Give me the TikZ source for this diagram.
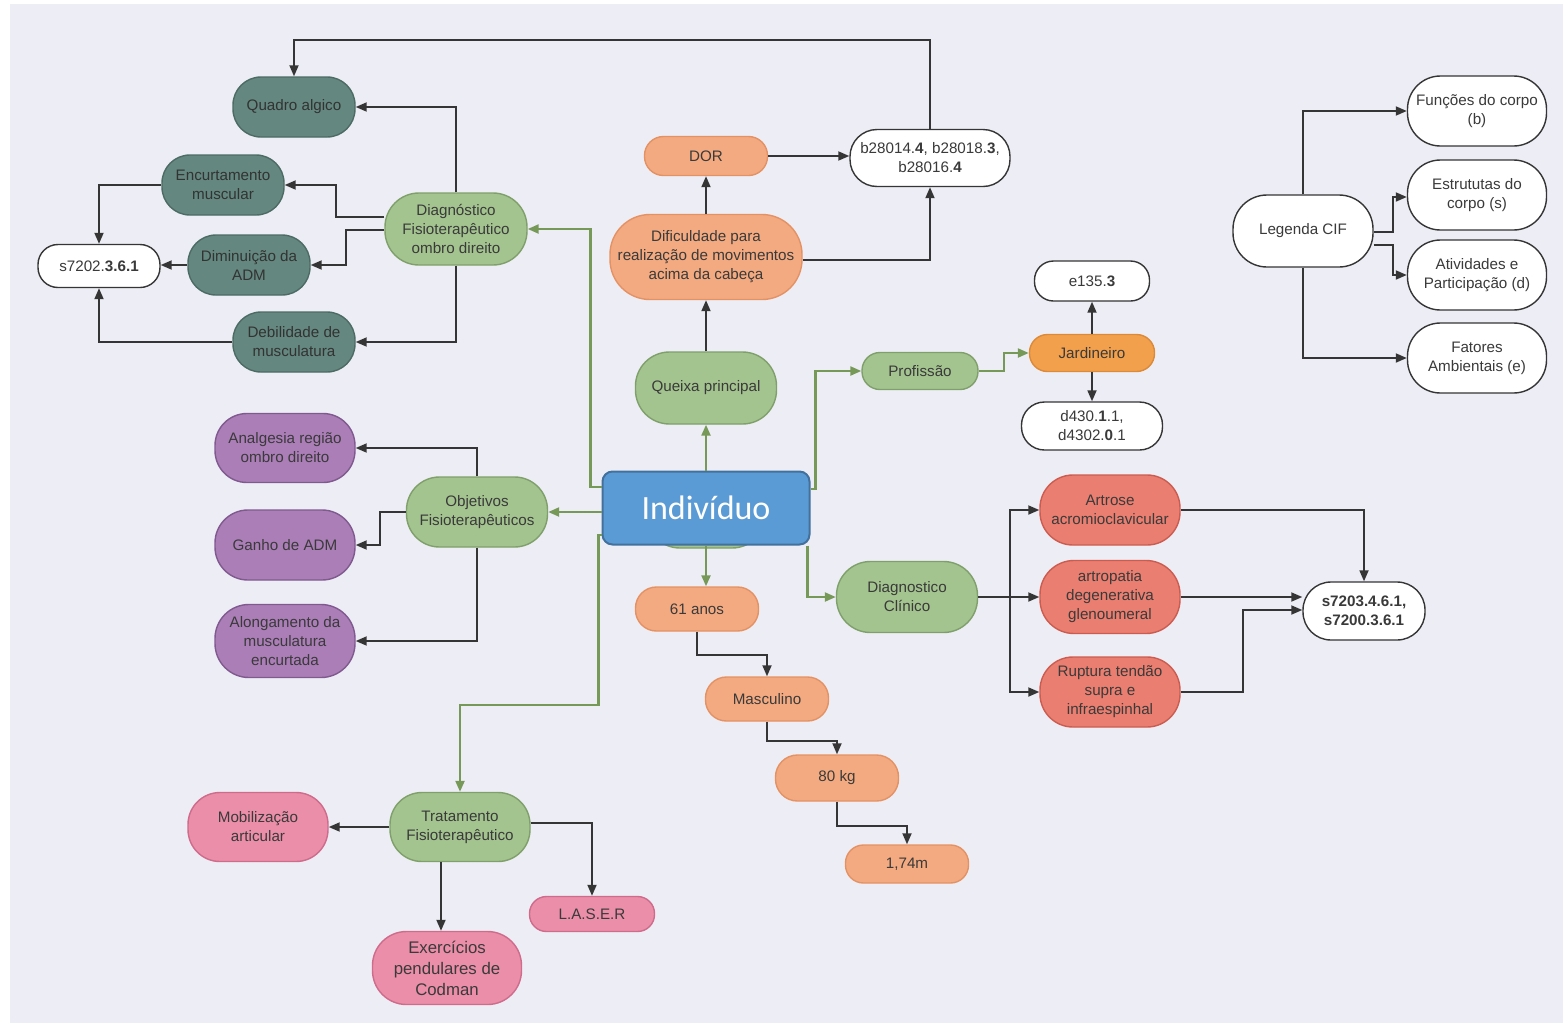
\documentclass[tikz,border=0pt]{standalone}
\usepackage{fontspec}
\setmainfont{Liberation Sans}
\newfontfamily\calfont{Carlito}
\usetikzlibrary{arrows.meta,calc}

\definecolor{paper}{HTML}{EDEDF5}
\definecolor{ink}{HTML}{3A3A3A}
\definecolor{line}{HTML}{353535}
\definecolor{leaf}{HTML}{779958}
\definecolor{tealF}{HTML}{64877F}
\definecolor{tealD}{HTML}{4C6B64}
\definecolor{greenF}{HTML}{A4C48F}
\definecolor{greenD}{HTML}{7FA06A}
\definecolor{orangeF}{HTML}{F3AA80}
\definecolor{orangeD}{HTML}{E49264}
\definecolor{jardF}{HTML}{F2A04C}
\definecolor{jardD}{HTML}{DC8A38}
\definecolor{salmonF}{HTML}{EA7E70}
\definecolor{salmonD}{HTML}{CC5C50}
\definecolor{purpleF}{HTML}{AB7EB8}
\definecolor{purpleD}{HTML}{80598F}
\definecolor{pinkF}{HTML}{EB8EA9}
\definecolor{pinkD}{HTML}{CF6B8B}
\definecolor{blueF}{HTML}{5B9BD5}
\definecolor{blueD}{HTML}{41719C}

\tikzset{
  box/.style={rectangle, draw, line width=0.7pt, align=center, text=ink,
    inner xsep=0.5pt, inner ysep=1pt, font=\fontsize{7.6}{9.5}\selectfont},
  tealbox/.style={box, fill=tealF, draw=tealD, text=black!80},
  greenbox/.style={box, fill=greenF, draw=greenD},
  orangebox/.style={box, fill=orangeF, draw=orangeD},
  jardbox/.style={box, fill=jardF, draw=jardD},
  salmonbox/.style={box, fill=salmonF, draw=salmonD},
  purplebox/.style={box, fill=purpleF, draw=purpleD},
  pinkbox/.style={box, fill=pinkF, draw=pinkD},
  whitebox/.style={box, fill=white, draw=line},
  arr/.style={draw=line, line width=0.9pt, -{Triangle[length=5.5pt,width=4.5pt]}},
  garr/.style={draw=leaf, line width=1.1pt, -{Triangle[length=5.5pt,width=4.5pt]}},
}

\begin{document}
\begin{tikzpicture}[x=0.5pt,y=-0.5pt]
% page and paper
\fill[white] (0,0) rectangle (1563,1023);
\fill[paper] (10,4) rectangle (1563,1023);
\useasboundingbox (0,0) rectangle (1563,1023);

% ---- physiotherapeutic diagnosis (top left)
\node[tealbox, minimum width=61pt, minimum height=30pt, rounded corners=14pt] (quadro) at (294,107) {Quadro algico};
\node[tealbox, minimum width=61pt, minimum height=30pt, rounded corners=14pt] (enc) at (223,185) {Encurtamento\\muscular};
\node[tealbox, minimum width=61pt, minimum height=30pt, rounded corners=14pt] (dim) at (249,265) {Diminuição da\\ADM};
\node[tealbox, minimum width=61pt, minimum height=30pt, rounded corners=14pt] (deb) at (294,342) {Debilidade de\\musculatura};
\node[whitebox, minimum width=61pt, minimum height=21.5pt, rounded corners=10pt] (s72) at (99,266) {s7202.\textbf{3.6.1}};
\node[greenbox, minimum width=71pt, minimum height=36pt, rounded corners=17pt] (diag) at (456,229) {Diagnóstico\\Fisioterapêutico\\ombro direito};

% ---- main complaint (top centre)
\node[orangebox, minimum width=61.5pt, minimum height=19.5pt, rounded corners=9.5pt] (dor) at (706,156) {DOR};
\node[whitebox, minimum width=80pt, minimum height=28.5pt, rounded corners=13.5pt] (b28) at (930,158) {b28014.\textbf{4}, b28018.\textbf{3},\\b28016.\textbf{4}};
\node[orangebox, minimum width=96pt, minimum height=42.5pt, rounded corners=20pt] (dif) at (706,257) {Dificuldade para\\realização de movimentos\\acima da cabeça};
\node[greenbox, minimum width=70.5pt, minimum height=36pt, rounded corners=17pt] (queixa) at (706,388) {Queixa principal};

% ---- individual (centre)
\node[greenbox, minimum width=60pt, minimum height=38pt, rounded corners=17pt] (pac) at (706,510) {};
\node[rectangle, draw=blueD, fill=blueF, line width=1pt, rounded corners=5pt,
      minimum width=103.5pt, minimum height=36.5pt, text=white,
      font=\calfont\fontsize{17}{20}\selectfont] (ind) at (706,508) {Indivíduo};

% ---- profession
\node[greenbox, minimum width=58pt, minimum height=18.5pt, rounded corners=9pt] (prof) at (920,371) {Profissão};
\node[jardbox, minimum width=62.5pt, minimum height=18.5pt, rounded corners=9pt] (jard) at (1092,353) {Jardineiro};
\node[whitebox, minimum width=57.5pt, minimum height=20pt, rounded corners=9.5pt] (e135) at (1092,281) {e135.\textbf{3}};
\node[whitebox, minimum width=70.5pt, minimum height=24pt, rounded corners=11.5pt] (d430) at (1092,426) {d430.\textbf{1}.1,\\d4302.\textbf{0}.1};

% ---- clinical diagnosis
\node[greenbox, minimum width=70.5pt, minimum height=35.5pt, rounded corners=17pt] (dclin) at (907,597) {Diagnostico\\Clínico};
\node[salmonbox, minimum width=70pt, minimum height=35pt, rounded corners=16.5pt] (art) at (1110,510) {Artrose\\acromioclavicular};
\node[salmonbox, minimum width=70pt, minimum height=36.5pt, rounded corners=17pt] (artp) at (1110,597) {artropatia\\degenerativa\\glenoumeral};
\node[salmonbox, minimum width=70pt, minimum height=35pt, rounded corners=16.5pt] (rup) at (1110,692) {Ruptura tendão\\supra e\\infraespinhal};
\node[whitebox, minimum width=61pt, minimum height=29pt, rounded corners=14pt] (s7203) at (1364,611) {\textbf{s7203.4.6.1,}\\\textbf{s7200.3.6.1}};

% ---- personal data
\node[orangebox, minimum width=61.5pt, minimum height=22pt, rounded corners=10.5pt] (anos) at (697,609) {61 anos};
\node[orangebox, minimum width=61.5pt, minimum height=22pt, rounded corners=10.5pt] (masc) at (767,699) {Masculino};
\node[orangebox, minimum width=61.5pt, minimum height=23pt, rounded corners=11pt] (kg) at (837,778) {80 kg};
\node[orangebox, minimum width=61.5pt, minimum height=19pt, rounded corners=9pt] (alt) at (907,864) {1,74m};

% ---- goals
\node[purplebox, minimum width=70pt, minimum height=34.5pt, rounded corners=16pt] (anal) at (285,448) {Analgesia região\\ombro direito};
\node[purplebox, minimum width=70pt, minimum height=35pt, rounded corners=16.5pt] (ganho) at (285,545) {Ganho de ADM};
\node[purplebox, minimum width=70pt, minimum height=36.5pt, rounded corners=17pt] (along) at (285,641) {Alongamento da\\musculatura\\encurtada};
\node[greenbox, minimum width=70.5pt, minimum height=35pt, rounded corners=16.5pt] (obj) at (477,512) {Objetivos\\Fisioterapêuticos};

% ---- treatment
\node[pinkbox, minimum width=70pt, minimum height=34.5pt, rounded corners=16pt] (mob) at (258,827) {Mobilização\\articular};
\node[greenbox, minimum width=70pt, minimum height=34.5pt, rounded corners=16pt] (trat) at (460,827) {Tratamento\\Fisioterapêutico};
\node[pinkbox, minimum width=62.5pt, minimum height=17.5pt, rounded corners=8.5pt] (laser) at (592,914) {L.A.S.E.R};
\node[pinkbox, minimum width=74.5pt, minimum height=36.5pt, rounded corners=17pt,
      font=\fontsize{8.4}{10.5}\selectfont] (exerc) at (447,968) {Exercícios\\pendulares de\\Codman};

% ---- ICF legend
\node[whitebox, minimum width=70pt, minimum height=36pt, rounded corners=17pt] (leg) at (1303,231) {Legenda CIF};
\node[whitebox, minimum width=69.5pt, minimum height=35pt, rounded corners=16.5pt] (fun) at (1477,111) {Funções do corpo\\(b)};
\node[whitebox, minimum width=69.5pt, minimum height=35pt, rounded corners=16.5pt] (est) at (1477,195) {Estrututas do\\corpo (s)};
\node[whitebox, minimum width=69.5pt, minimum height=35pt, rounded corners=16.5pt] (ati) at (1477,275) {Atividades e\\Participação (d)};
\node[whitebox, minimum width=69.5pt, minimum height=35pt, rounded corners=16.5pt] (fat) at (1477,358) {Fatores\\Ambientais (e)};

% ================= connectors
% physiotherapeutic diagnosis
\draw[arr] (diag.north) |- (quadro.east);
\draw[arr] ($(diag.west)+(0,-12)$) -- ++(-48,0) |- (enc.east);
\draw[arr] ($(diag.west)+(0,1)$) -- ++(-38,0) |- (dim.east);
\draw[arr] (diag.south) |- (deb.east);
\draw[arr] (enc.west) -| (s72.north);
\draw[arr] (dim.west) -- (dim.west -| s72.east);
\draw[arr] (deb.west) -| (s72.south);
\draw[arr] (b28.north) -- ++(0,-89) -| (quadro.north);

% main complaint
\draw[garr] (ind.north) -- (queixa.south);
\draw[arr] (queixa.north) -- (dif.south);
\draw[arr] (dif.north) -- (dor.south);
\draw[arr] (dor.east) -- (dor.east -| b28.west);
\draw[arr] ($(dif.east)+(0,3)$) -| (b28.south);

% branches of the individual
\draw[garr] ($(ind.west)+(0,-21)$) -- ++(-11,0) |- (diag.east);
\draw[garr] (ind.west |- obj.east) -- (obj.east);
\draw[garr] ($(ind.west)+(0,27)$) -- ++(-3,0) -- ++(0,170) -| (trat.north);
\draw[garr] ($(ind.east)+(0,-19)$) -- ++(5,0) |- (prof.west);
\draw[garr] (prof.east) -- ++(25,0) |- (jard.west);
\draw[garr] (ind.south) -- (ind.south |- anos.north);
\draw[garr] ($(ind.south east)+(-3,0)$) |- (dclin.west);

% profession
\draw[arr] (jard.north) -- (e135.south);
\draw[arr] (jard.south) -- (d430.north);

% clinical diagnosis
\draw[arr] (dclin.east) -- ++(32,0) |- (art.west);
\draw[arr] (dclin.east) -- (artp.west);
\draw[arr] (dclin.east) -- ++(32,0) |- (rup.west);
\draw[arr] (art.east) -| (s7203.north);
\draw[arr] (artp.east) -- (artp.east -| s7203.west);
\draw[arr] (rup.east) -- ++(62,0) |- ($(s7203.west)+(0,-1)$);

% personal data chain
\draw[arr] (anos.south) -- ++(0,23) -| (masc.north);
\draw[arr] (masc.south) -- ++(0,19) -| (kg.north);
\draw[arr] (kg.south) -- ++(0,24) -| (alt.north);

% goals
\draw[arr] (obj.north) |- (anal.east);
\draw[arr] (obj.west) -- ++(-26,0) |- (ganho.east);
\draw[arr] (obj.south) |- (along.east);

% treatment
\draw[arr] (trat.west) -- (mob.east);
\draw[arr] ($(trat.east)+(0,-4)$) -| (laser.north);
\draw[arr] ($(trat.south)+(-19,0)$) -- ($(exerc.north)+(-6,0)$);

% legend
\draw[arr] (leg.north) |- (fun.west);
\draw[arr] ($(leg.east)+(0,1)$) -- ++(19,0) |- ($(est.west)+(0,2)$);
\draw[arr] ($(leg.east)+(0,14)$) -- ++(19,0) |- (ati.west);
\draw[arr] (leg.south) |- (fat.west);
\end{tikzpicture}
\end{document}
